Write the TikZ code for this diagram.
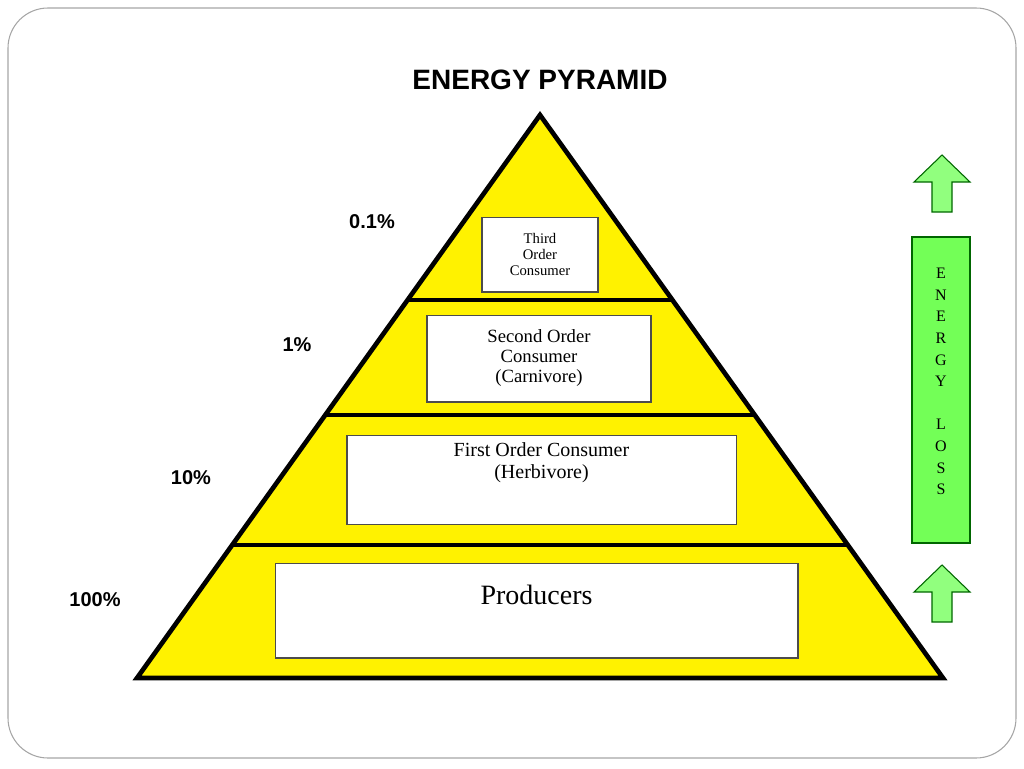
\documentclass[tikz,border=0pt]{standalone}
\usepackage{fontspec}
\setsansfont{Liberation Sans}
\setmainfont{Liberation Serif}
\begin{document}
\begin{tikzpicture}[x=0.75pt,y=-0.75pt,
  lbox/.style={draw=black!70,fill=white,line width=1pt},
  pct/.style={font=\sffamily\bfseries\fontsize{15}{15}\selectfont},
  uparr/.style={draw=green!40!black,fill=green!45!white!90!lime,line width=0.8pt}]
\useasboundingbox (0,0) rectangle (1024,768);
\draw[gray!70,line width=0.8pt,rounded corners=30] (8,8) rectangle (1016,758);
\node[font=\sffamily\bfseries\fontsize{21}{21}\selectfont] (title) at (540,80) {ENERGY PYRAMID};
\fill[yellow] (540,115) -- (943,678) -- (137,678) -- cycle;
\draw[line width=3.5pt,line join=miter] (540,115) -- (943,678) -- (137,678) -- cycle;
\draw[line width=3.5pt] (408,300) -- (672,300);
\draw[line width=3.5pt] (325,415) -- (755,415);
\draw[line width=3.5pt] (232,545) -- (848,545);
\node[lbox,minimum width=87pt,minimum height=56pt,align=center,font=\fontsize{11}{12}\selectfont] (t) at (540,254.5) {Third\\Order\\Consumer};
\node[lbox,minimum width=168pt,minimum height=65pt,align=center,font=\fontsize{14}{15}\selectfont] (s) at (539,358.5) {Second Order\\Consumer\\(Carnivore)};
\node[lbox,minimum width=292pt,minimum height=67pt,align=center,font=\fontsize{15}{17}\selectfont] (f) at (541.5,480) {First Order Consumer\\(Herbivore)\\[12pt]};
\node[lbox,minimum width=392pt,minimum height=71pt,font=\fontsize{21}{22}\selectfont] (p) at (536.5,610.5) {\raisebox{24pt}{Producers}};
\node[pct] (a) at (372,222) {0.1\%};
\node[pct] (b) at (297,345) {1\%};
\node[pct] (c) at (191,478) {10\%};
\node[pct] (d) at (95,600) {100\%};
\draw[draw=green!40!black,fill=green!60!white!85!lime,line width=1pt] (912,237) rectangle (970,543);
\node[align=center,font=\fontsize{12}{16.2}\selectfont,inner sep=0pt,anchor=north] (bar) at (941,268) {E\\N\\E\\R\\G\\Y\\[16.2pt]L\\O\\S\\S};
\draw[uparr] (932,212) -- (932,182) -- (914,182) -- (942,155) -- (970,182) -- (952,182) -- (952,212) -- cycle;
\draw[uparr] (932,622) -- (932,592) -- (914,592) -- (942,565) -- (970,592) -- (952,592) -- (952,622) -- cycle;
\end{tikzpicture}
\end{document}
